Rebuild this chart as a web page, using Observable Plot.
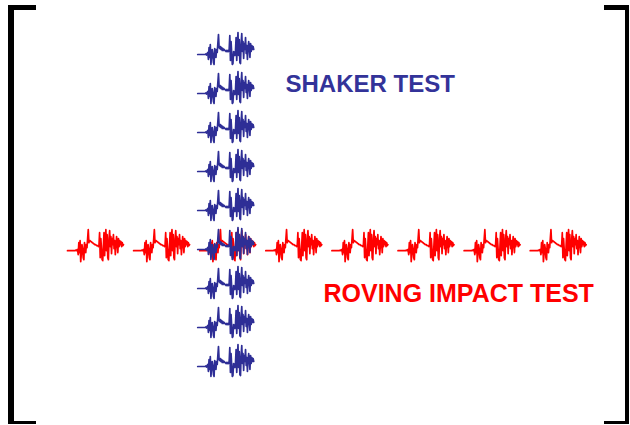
<!DOCTYPE html>
<html><head><meta charset="utf-8">
<script src="https://cdn.jsdelivr.net/npm/d3@7"></script>
<script src="https://cdn.jsdelivr.net/npm/@observablehq/plot@0.6"></script>
<style>html,body{margin:0;padding:0;background:#fff;}</style>
</head><body><div id="chart"></div>
<script>
// Roving impact positions (columns of the FRF matrix row)
const impactCols = [0, 1, 2, 3, 4, 5, 6, 7];
// Shaker test response positions (rows of the FRF matrix column)
const shakerRows = [0, 1, 2, 3, 4, 5, 6, 7, 8];
const shakerCol = 1.97;
const impactRow = 5.03;

// FRF trace amplitude samples
const frfRed = [
  0,0,0,0,0,0,0,0,0,0,0,0,0,0.5,0,1,
  1,-4,8,-2,10,-11,-3,6,2,-7,-9,8,3,-2,6,3,12,21,8,
  10,10,9,9,8,8,7,7,6,6,6,5,5,5,4,5,
  18,-7,12,2,-9,-10,4,18,-5,10,21,0,16,-7,-9,12,20,4,14,-3,12,6,16,2,10,-4,5,14,8,-2,12,4,10,6,9,4,8,5,6
];
const frfBlue = [
  0,0,0,0,0,0,0,0,0,0,0,0,0,0.5,-0.5,1,
  2,-5,7,-3,10,-10,-2,5,1,-8,-10,6,2,-3,5,2,11,20,7,
  6,8,5,7,4,6,4,5,4,4,3,4,3,4,3,5,
  19,-6,13,1,-10,-9,3,2,-1,3,17,-6,9,22,-1,15,-8,-9,11,21,3,13,-4,11,5,17,1,9,-5,6,13,7,-3,11,3,9,5,8,5
];
const labels = ["SHAKER TEST", "ROVING IMPACT TEST"];

// layout
const W = 630, H = 425;
const colStep = 66.1, colOrigin = 67, rowStep = 39, rowOrigin = 54;
const px2x = px => (px - colOrigin) / colStep;
const px2y = px => (px - rowOrigin) / rowStep;
const traceWidth = 56 / colStep;
const ampScale = 1 / rowStep;

function trace(vals, col, row, id) {
  const n = vals.length;
  return vals.map((a, i) => ({id, x: col + (i / (n - 1)) * traceWidth, y: row - a * ampScale}));
}
const redData = impactCols.flatMap(c => trace(frfRed, c, impactRow, "r" + c));
const blueData = shakerRows.flatMap(r => trace(frfBlue, shakerCol, r, "b" + r));

const bracketRects = [
  // left bracket
  {x1: px2x(8), x2: px2x(14), y1: px2y(5), y2: px2y(424)},
  {x1: px2x(8), x2: px2x(36), y1: px2y(5), y2: px2y(10)},
  {x1: px2x(8), x2: px2x(36), y1: px2y(421), y2: px2y(424)},
  // right bracket
  {x1: px2x(625), x2: px2x(629), y1: px2y(5), y2: px2y(424)},
  {x1: px2x(604), x2: px2x(629), y1: px2y(5), y2: px2y(10)},
  {x1: px2x(604), x2: px2x(629), y1: px2y(421), y2: px2y(424)}
];

const textData = [
  {label: labels[0], x: px2x(285), y: px2y(91)},
  {label: labels[1], x: px2x(323), y: px2y(301)}
];

const chart = Plot.plot({
  width: W, height: H,
  margin: 0,
  style: {background: "#fff"},
  x: {domain: [px2x(0), px2x(W)], range: [0, W], axis: null},
  y: {domain: [px2y(0), px2y(H)], range: [0, H], axis: null},
  marks: [
    Plot.rect(bracketRects, {x1: "x1", x2: "x2", y1: "y1", y2: "y2", fill: "#000"}),
    Plot.line(redData, {x: "x", y: "y", z: "id", stroke: "#ff0000", strokeWidth: 1.7, curve: "linear"}),
    Plot.line(blueData, {x: "x", y: "y", z: "id", stroke: "#2e2e96", strokeWidth: 1.7, curve: "linear"}),
    Plot.text(textData.slice(0,1), {x: "x", y: "y", text: "label", fill: "#333399", fontSize: 24, fontWeight: "bold", fontFamily: "Liberation Sans, Arial, sans-serif", textAnchor: "start", lineAnchor: "bottom"}),
    Plot.text(textData.slice(1), {x: "x", y: "y", text: "label", fill: "#ff0000", fontSize: 25, fontWeight: "bold", fontFamily: "Liberation Sans, Arial, sans-serif", textAnchor: "start", lineAnchor: "bottom"})
  ]
});
document.getElementById("chart").appendChild(chart);
</script>
</body></html>
